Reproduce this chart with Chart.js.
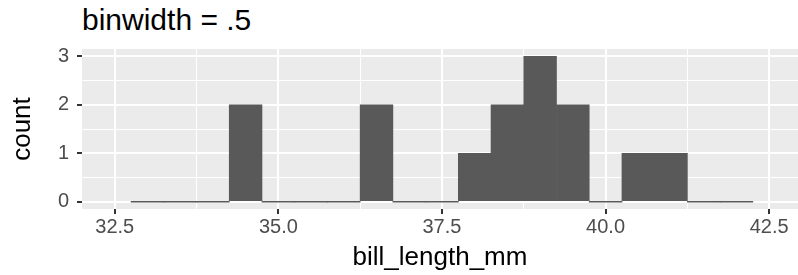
<!DOCTYPE html>
<html>
<head>
<meta charset="utf-8">
<title>binwidth = .5</title>
<script src="https://cdn.jsdelivr.net/npm/chart.js@4"></script>
<style>
    html, body { margin: 0; padding: 0; background: #fff; }
    #wrap { position: relative; width: 798px; height: 275px; overflow: hidden; }
    #plot-title {
        position: absolute; left: 82px; top: 5px;
        font-family: "Liberation Sans", Arial, sans-serif;
        font-size: 30px; line-height: 30px; color: #000; white-space: nowrap;
    }
    #histChart { position: absolute; left: 0; top: 0; }
</style>
</head>
<body>
<div id="wrap">
    <div id="plot-title">binwidth = .5</div>
    <canvas id="histChart" width="798" height="275"></canvas>
</div>
<script>
/* ================= DATA ================= */
// bin centres (binwidth 0.5) and counts per bin
const binCenters = [33.0, 33.5, 34.0, 34.5, 35.0, 35.5, 36.0, 36.5, 37.0, 37.5,
                    38.0, 38.5, 39.0, 39.5, 40.0, 40.5, 41.0, 41.5, 42.0];
const binCounts  = [0, 0, 0, 2, 0, 0, 0, 2, 0, 0,
                    1, 2, 3, 2, 0, 1, 1, 0, 0];

const xMajorTicks = [32.5, 35.0, 37.5, 40.0, 42.5];
const xMinorTicks = [33.75, 36.25, 38.75, 41.25];
const yMajorTicks = [0, 1, 2, 3];
const yMinorTicks = [0.5, 1.5, 2.5];

/* ================= STYLE ================= */
const FONT = '"Liberation Sans", Arial, sans-serif';
const PANEL_BG = '#EBEBEB';
const BAR_FILL = '#595959';

// grey panel behind the grid, like ggplot's theme_gray
const panelBackground = {
    id: 'panelBackground',
    beforeDraw(chart) {
        const { ctx, chartArea: a } = chart;
        ctx.save();
        ctx.fillStyle = PANEL_BG;
        ctx.fillRect(a.left, a.top, a.right - a.left, a.bottom - a.top);
        ctx.restore();
    }
};

function tickList(major, minor) {
    return major.concat(minor).sort((a, b) => a - b);
}

function isMajor(ctx, major) {
    return !!(ctx.tick && major.includes(ctx.tick.value));
}

function axisGrid(major) {
    return {
        offset: false,
        color: '#FFFFFF',
        lineWidth: ctx => isMajor(ctx, major) ? 2 : 1,
        drawTicks: true,
        tickLength: 5,
        tickWidth: 2,
        tickColor: ctx => isMajor(ctx, major) ? '#333333' : 'rgba(0,0,0,0)'
    };
}

/* ================= CHART ================= */
new Chart(document.getElementById('histChart'), {
    type: 'bar',
    data: {
        datasets: [{
            data: binCenters.map((x, i) => ({ x: x, y: binCounts[i] })),
            backgroundColor: BAR_FILL,
            borderWidth: 0,
            barPercentage: 1,
            categoryPercentage: 1,
            minBarLength: 1 // empty bins show as a thin line, as in ggplot
        }]
    },
    options: {
        responsive: false,
        animation: false,
        layout: { padding: { top: 49, left: 0, right: 0, bottom: 0 } },
        plugins: { legend: { display: false }, tooltip: { enabled: false } },
        scales: {
            x: {
                type: 'linear',
                min: 32.0,
                max: 42.94,
                offset: false,
                afterBuildTicks: scale => {
                    scale.ticks = tickList(xMajorTicks, xMinorTicks).map(v => ({ value: v }));
                },
                afterFit: scale => { scale.height = 66; },
                grid: axisGrid(xMajorTicks),
                border: { display: false },
                ticks: {
                    autoSkip: false,
                    maxRotation: 0,
                    padding: 1,
                    color: '#4D4D4D',
                    font: { family: FONT, size: 20 },
                    callback: v => xMajorTicks.includes(v) ? v.toFixed(1) : ''
                },
                title: {
                    display: true,
                    text: 'bill_length_mm',
                    color: '#000',
                    font: { family: FONT, size: 26 },
                    padding: { top: 0, bottom: 2 }
                }
            },
            y: {
                type: 'linear',
                min: -0.15,
                max: 3.15,
                afterBuildTicks: scale => {
                    scale.ticks = tickList(yMajorTicks, yMinorTicks).map(v => ({ value: v }));
                },
                afterFit: scale => { scale.width = 82; },
                grid: axisGrid(yMajorTicks),
                border: { display: false },
                ticks: {
                    autoSkip: false,
                    padding: 8,
                    color: '#4D4D4D',
                    font: { family: FONT, size: 20 },
                    callback: v => yMajorTicks.includes(v) ? String(v) : ''
                },
                title: {
                    display: true,
                    text: 'count',
                    color: '#000',
                    font: { family: FONT, size: 26 },
                    padding: { top: 7, bottom: 0 }
                }
            }
        }
    },
    plugins: [panelBackground]
});
</script>
</body>
</html>
